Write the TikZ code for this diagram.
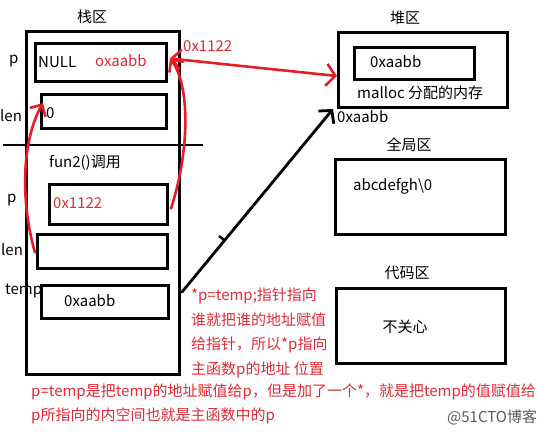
\documentclass[tikz,border=0pt]{standalone}
\usepackage{fontspec}
\setmainfont{Noto Sans CJK SC}
\usetikzlibrary{arrows.meta}
\definecolor{redpen}{RGB}{232,28,36}
\definecolor{redtext}{RGB}{226,42,52}
\definecolor{wmgrey}{RGB}{90,90,90}
\begin{document}
\begin{tikzpicture}[x=1pt,y=-1pt,
  box/.style={draw, line width=3pt, rectangle, anchor=north west, inner sep=0pt},
  txt/.style={inner sep=0pt, anchor=west, font=\fontsize{15}{17}\selectfont},
  ctxt/.style={inner sep=0pt, anchor=center, font=\fontsize{15}{17}\selectfont},
  rtxt/.style={txt, text=redtext},
  redarrow/.style={draw=redpen, line width=2.6pt, line cap=round},
  blkarrow/.style={draw=black, line width=2.8pt, line cap=round}]
\useasboundingbox (0,0) rectangle (554,435);
% stack
\node[ctxt] (tstack) at (92,17) {栈区};
\node[box, minimum width=153pt, minimum height=343pt] (stack) at (25,30) {};
\node[box, minimum width=131pt, minimum height=38pt] (pbox) at (34,42) {};
\node[box, minimum width=125pt, minimum height=34pt] (lenbox) at (40,93) {};
\node[box, minimum width=118pt, minimum height=40pt] (p2box) at (48,183) {};
\node[box, minimum width=130pt, minimum height=34pt] (len2box) at (36,233) {};
\node[box, minimum width=127pt, minimum height=33pt] (tempbox) at (40,284) {};
\coordinate (sepL) at (3,145);
\coordinate (sepR) at (203,145);
\draw[line width=2.8pt] (sepL) -- (sepR);
\node[txt] (null) at (38,62) {NULL};
\node[rtxt] (oxa) at (95,61) {oxaabb};
\node[txt] (zero) at (46,113) {0};
\node[txt] (fun2) at (49,163) {fun2()调用};
\node[rtxt] (p2val) at (53,203) {0x1122};
\node[txt] (tempval) at (64,301) {0xaabb};
\node[txt] (lp1) at (9,61) {p};
\node[txt] (llen1) at (0,116) {len};
\node[txt] (lp2) at (7,200) {p};
\node[txt] (llen2) at (1,250) {len};
\node[txt] (ltemp) at (5,291) {temp};
\node[rtxt] (addr1122) at (183,46) {0x1122};
% heap
\node[ctxt] (theap) at (405,18) {堆区};
\node[box, minimum width=169pt, minimum height=75pt] (heap) at (337,31) {};
\node[box, minimum width=120pt, minimum height=32pt] (heapin) at (353,46) {};
\node[txt] (hval) at (370,62) {0xaabb};
\node[txt] (malloc) at (357,93) {malloc 分配的内存};
\node[txt] (haddr) at (337,117) {0xaabb};
% global
\node[ctxt] (tglobal) at (409,145) {全局区};
\node[box, minimum width=170pt, minimum height=75pt] (global) at (334,158) {};
\node[txt] (gval) at (353,186) {abcdefgh\textbackslash 0};
% code
\node[ctxt] (tcode) at (407,273) {代码区};
\node[box, minimum width=169pt, minimum height=75pt] (code) at (335,287) {};
\node[ctxt] (nocare) at (405,327) {不关心};
% red explanation
\node[rtxt] (e1) at (191,296) {*p=temp;指针指向};
\node[rtxt] (e2) at (191,320) {谁就把谁的地址赋值};
\node[rtxt] (e3) at (191,345) {给指针，所以*p指向};
\node[rtxt] (e4) at (191,370) {主函数p的地址 位置};
\node[rtxt] (b1) at (31,392) {p=temp是把temp的地址赋值给p，但是加了一个*，就是把temp的值赋值给};
\node[rtxt] (b2) at (31,416) {p所指向的内空间也就是主函数中的p};
\node[txt, text=wmgrey] (wm) at (447,417) {@51CTO博客};
% red arrows
\draw[redarrow, {Straight Barb[length=9pt,width=20pt]}-{Straight Barb[length=9pt,width=22pt]}] (pbox.east) ++(2,-4) coordinate (pa) -- (heap.west |- 0,76) coordinate (hb);
\draw[redarrow, -{Straight Barb[length=9pt,width=18pt]}] (p2box.east) ++(2,4) .. controls (190,150) and (190,85) .. (pa);
\draw[redarrow, -{Straight Barb[length=9pt,width=18pt]}] (len2box.west) ++(-1,1) .. controls (20,200) and (22,140) .. ([shift={(3,10)}]lenbox.north west);
% black arrow
\coordinate (bs) at (182,292);
\draw[blkarrow, -{Straight Barb[length=9pt,width=20pt]}] (bs) -- ([shift={(-4,0)}]heap.south west);
\draw[line width=2.5pt] (219,236) -- (224,240);
\end{tikzpicture}
\end{document}
